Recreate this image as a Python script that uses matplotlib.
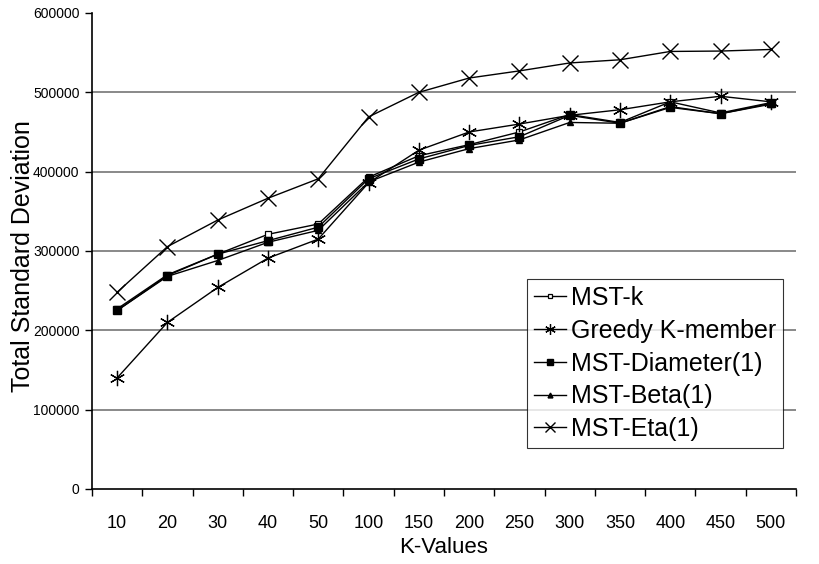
import matplotlib
matplotlib.use("Agg")
import matplotlib.pyplot as plt
import numpy as np

plt.rcParams['font.family'] = ['Liberation Sans', 'DejaVu Sans']

k_values = ["10", "20", "30", "40", "50", "100", "150", "200", "250",
            "300", "350", "400", "450", "500"]

mst_k = [227000, 270000, 296000, 321000, 334000, 393000, 420000, 434000,
         450000, 472000, 462000, 488000, 474000, 487000]
greedy_k_member = [140000, 210000, 254000, 291000, 315000, 386000, 427000,
                   450000, 460000, 471000, 478000, 488000, 495000, 488000]
mst_diameter = [225000, 269000, 296000, 313000, 330000, 391000, 416000,
                433000, 444000, 471000, 461000, 482000, 473000, 486000]
mst_beta = [225000, 268000, 288000, 311000, 326000, 387000, 412000, 429000,
            440000, 462000, 461000, 481000, 473000, 485000]
mst_eta = [248000, 305500, 339000, 366500, 391000, 469000, 500000, 518000,
           527000, 537000, 541000, 551500, 552000, 554000]

fig = plt.figure(figsize=(8.2, 5.64), dpi=100)
ax = fig.add_axes([0.1122, 0.133, 0.8585, 0.844])

x = np.arange(len(k_values))

series = [
    ("MST-k", mst_k, dict(marker='s', markersize=5, markerfacecolor='white',
                          markeredgewidth=0.9)),
    ("Greedy K-member", greedy_k_member, dict(marker=(6, 2, 0), markersize=11,
                                              markeredgewidth=0.9)),
    ("MST-Diameter(1)", mst_diameter, dict(marker='s', markersize=6,
                                           markerfacecolor='black')),
    ("MST-Beta(1)", mst_beta, dict(marker='^', markersize=5,
                                   markerfacecolor='black')),
    ("MST-Eta(1)", mst_eta, dict(marker='x', markersize=11,
                                 markeredgewidth=1.0)),
]

for label, vals, style in series:
    ax.plot(x, vals, color='black', linewidth=1.0, label=label,
            markeredgecolor='black', **style)

# horizontal grid
for yv in range(100000, 600000, 100000):
    ax.axhline(yv, color='#767676', linewidth=1.2, zorder=0)

ax.set_xlim(-0.5, len(k_values) - 0.5)
ax.set_ylim(0, 600000)

ax.set_yticks(np.arange(0, 600001, 100000))
ax.set_yticklabels([str(v) for v in range(0, 600001, 100000)], fontsize=10)

ax.set_xticks(np.arange(-0.5, len(k_values), 1.0))
ax.set_xticklabels([])
ax.set_xticks(x, minor=True)
ax.set_xticklabels(k_values, minor=True, fontsize=13)
ax.tick_params(axis='x', which='minor', length=0, pad=19)
ax.tick_params(axis='x', which='major', direction='out', length=5, width=1)
ax.tick_params(axis='y', direction='out', length=5, width=1, pad=4)

for side in ('top', 'right'):
    ax.spines[side].set_visible(False)
for side in ('left', 'bottom'):
    ax.spines[side].set_linewidth(1.2)

ax.set_xlabel("K-Values", fontsize=16, labelpad=3)
ax.set_ylabel("Total Standard Deviation", fontsize=18)
ax.yaxis.set_label_coords(-0.081, 0.49)

leg = ax.legend(loc='lower right', bbox_to_anchor=(0.9815, 0.086),
                fontsize=18, frameon=True, fancybox=False, edgecolor='black',
                handlelength=1.25, handletextpad=0.2, borderpad=0.28,
                labelspacing=0.35, borderaxespad=0.0, markerscale=0.7)
leg.get_frame().set_linewidth(0.8)

fig.savefig("out.png", dpi=100)
